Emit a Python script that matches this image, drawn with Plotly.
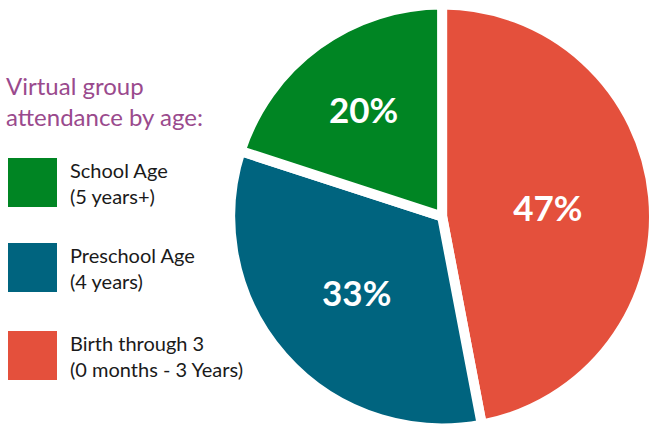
import plotly.graph_objects as go

# Data
labels = ["Birth through 3", "Preschool Age", "School Age"]
sublabels = ["(0 months - 3 Years)", "(4 years)", "(5 years+)"]
values = [47, 33, 20]
colors = ["#e4503c", "#00647f", "#008523"]
title_text = "Virtual group<br>attendance by age:"

# legend order as in reference (top to bottom)
legend_order = [2, 1, 0]

W, H = 654, 429
MT = 4


def px_x(x):
    return x / W


def px_y(y):
    return (H - y) / (H - MT)


fig = go.Figure()
fig.add_trace(go.Pie(
    labels=labels,
    values=values,
    sort=False,
    direction="clockwise",
    rotation=0,
    marker=dict(colors=colors, line=dict(color="white", width=10)),
    textinfo="percent",
    texttemplate="%{percent:.0%}",
    textposition="inside",
    insidetextorientation="horizontal",
    insidetextfont=dict(family="Lato", size=35, color="white", weight="bold"),
    domain=dict(x=[0.352, 1.0], y=[0.0, 1.0]),
    showlegend=False,
    hoverinfo="label+percent",
))

shapes = []
annotations = []
ys = [158, 243, 331]
for k, idx in enumerate(legend_order):
    y0 = ys[k]
    shapes.append(dict(type="rect", xref="paper", yref="paper",
                       x0=px_x(8), x1=px_x(57), y0=px_y(y0 + 49), y1=px_y(y0),
                       fillcolor=colors[idx], line=dict(width=0)))
    annotations.append(dict(xref="paper", yref="paper", x=px_x(68), y=px_y(y0 + 24.5),
                            xanchor="left", yanchor="middle", showarrow=False, align="left",
                            text=labels[idx] + "<br>" + sublabels[idx],
                            font=dict(family="Lato", size=20, color="#1a1a1a")))

annotations.append(dict(xref="paper", yref="paper", x=px_x(4), y=px_y(101),
                        xanchor="left", yanchor="middle", showarrow=False, align="left",
                        text=title_text,
                        font=dict(family="Lato", size=24, color="#9a4a8d")))

fig.update_layout(
    width=W, height=H,
    margin=dict(l=0, r=0, t=MT, b=0),
    paper_bgcolor="white",
    plot_bgcolor="white",
    shapes=shapes,
    annotations=annotations,
)

fig.write_html("out.html", config={"displayModeBar": False},
               post_script="document.body.style.margin='0';document.body.style.overflow='hidden';")
